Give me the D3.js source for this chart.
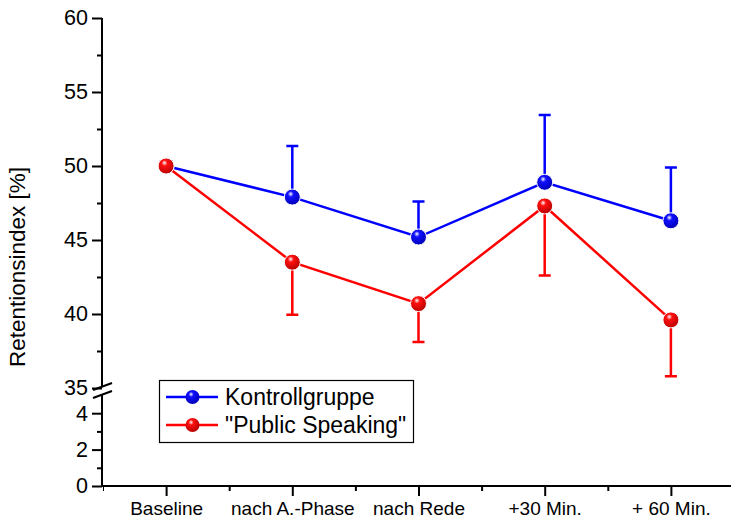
<!DOCTYPE html>
<meta charset="utf-8">
<style>
body { margin: 0; background: #fff; }
text { font-family: "Liberation Sans", Arial, sans-serif; fill: #000; }
</style>
<svg width="731" height="520"></svg>
<script src="https://d3js.org/d3.v7.min.js"></script>
<script>

var categories = ["Baseline", "nach A.-Phase", "nach Rede", "+30 Min.", "+ 60 Min."];
var kontroll = [50.0, 47.9, 45.2, 48.9, 46.3];
var kontrollErr = [0, 3.45, 2.4, 4.55, 3.6];
var publicSp = [50.0, 43.5, 40.7, 47.3, 39.6];
var publicErr = [0, 3.55, 2.6, 4.7, 3.8];
var upperTicks = [35, 40, 45, 50, 55, 60];
var lowerTicks = [0, 2, 4];

var svg = d3.select("svg");

// x position by category index
var x = d3.scaleLinear().domain([-0.5, 4.5]).range([103, 734]);
// two y segments with a break
var yTop = d3.scaleLinear().domain([35, 60]).range([388, 18]);
var yBot = d3.scaleLinear().domain([0, 5]).range([486, 395]);

var defs = svg.append("defs");
function ball(id, c, dark) {
  var g = defs.append("radialGradient").attr("id", id)
      .attr("cx", "40%").attr("cy", "35%").attr("r", "65%").attr("fx", "40%").attr("fy", "30%");
  g.append("stop").attr("offset", "0%").attr("stop-color", "#fff");
  g.append("stop").attr("offset", "28%").attr("stop-color", c);
  g.append("stop").attr("offset", "100%").attr("stop-color", dark);
}
ball("gBlue", "#1010ff", "#0000b8");
ball("gRed", "#ff1010", "#b80000");

// upper y axis
var axTop = svg.append("g").attr("transform", "translate(102,0)")
    .call(d3.axisLeft(yTop).tickValues(upperTicks).tickSize(10).tickSizeOuter(0).tickPadding(4));
axTop.append("g").call(d3.axisLeft(yTop).tickValues(d3.range(37.5, 60, 5)).tickSize(5).tickFormat(""));
var axBot = svg.append("g").attr("transform", "translate(102,0)")
    .call(d3.axisLeft(yBot).tickValues(lowerTicks).tickSize(10).tickSizeOuter(0).tickPadding(4)
      .tickFormat(d3.format("d")));
axBot.append("g").call(d3.axisLeft(yBot).tickValues([1, 3]).tickSize(5).tickFormat(""));
svg.selectAll(".domain").remove();
svg.append("line").attr("x1", 102).attr("x2", 102).attr("y1", yTop(60)).attr("y2", 386)
    .attr("stroke", "#000").attr("stroke-width", 2);
svg.append("line").attr("x1", 102).attr("x2", 102).attr("y1", 395).attr("y2", yBot(0))
    .attr("stroke", "#000").attr("stroke-width", 2);
// break marks
svg.append("line").attr("x1", 93).attr("y1", 390).attr("x2", 112).attr("y2", 383)
    .attr("stroke", "#000").attr("stroke-width", 2);
svg.append("line").attr("x1", 93).attr("y1", 398).attr("x2", 112).attr("y2", 391)
    .attr("stroke", "#000").attr("stroke-width", 2);

// x axis
var axX = svg.append("g").attr("transform", "translate(0," + yBot(0) + ")")
    .call(d3.axisBottom(x).tickValues(d3.range(0, 5)).tickFormat(function(i) { return categories[i]; })
      .tickSize(10).tickSizeOuter(0).tickPadding(6));
axX.append("g").call(d3.axisBottom(x).tickValues(d3.range(0.5, 4.5, 1)).tickSize(5).tickFormat(""));
axX.select(".domain").remove();
svg.append("line").attr("x1", 101).attr("x2", 731).attr("y1", yBot(0)).attr("y2", yBot(0))
    .attr("stroke", "#000").attr("stroke-width", 2);

svg.selectAll(".tick line").attr("stroke", "#000").attr("stroke-width", 2);
axTop.selectAll(".tick text").style("font-size", "21.5px");
axBot.selectAll(".tick text").style("font-size", "21.5px");
axX.selectAll(".tick text").style("font-size", "19px");

svg.append("text").attr("transform", "translate(25,267) rotate(-90)")
    .attr("text-anchor", "middle").style("font-size", "22.5px").text("Retentionsindex [%]");

// series
var line = d3.line().x(function(d, i) { return x(i); }).y(function(d) { return yTop(d); });

function series(vals, errs, color, grad, dir) {
  var g = svg.append("g");
  var pts = vals.map(function(v, i) { return { i: i, v: v, e: errs[i] }; });
  g.selectAll(".err").data(pts.filter(function(p) { return p.e > 0; })).enter()
    .append("path")
      .attr("d", function(p) {
        var y0 = yTop(p.v), y1 = yTop(p.v + dir * p.e), cx = x(p.i);
        return "M" + cx + "," + y0 + "V" + y1 + "M" + (cx - 6) + "," + y1 + "H" + (cx + 6);
      })
      .attr("stroke", color).attr("stroke-width", 2.5).attr("fill", "none");
  g.append("path").datum(vals).attr("d", line)
      .attr("stroke", color).attr("stroke-width", 2.5).attr("fill", "none");
  g.selectAll("circle").data(pts).enter().append("circle")
      .attr("cx", function(p) { return x(p.i); })
      .attr("cy", function(p) { return yTop(p.v); })
      .attr("r", 8).attr("fill", "url(#" + grad + ")")
      .attr("stroke", "#fff").attr("stroke-width", 1);
}
series(kontroll, kontrollErr, "#0000ff", "gBlue", 1);
series(publicSp, publicErr, "#ff0000", "gRed", -1);

// legend
var leg = svg.append("g");
leg.append("rect").attr("x", 159.5).attr("y", 380.5).attr("width", 254).attr("height", 62)
    .attr("fill", "#fff").attr("stroke", "#000").attr("stroke-width", 1.2);
var legItems = [["Kontrollgruppe", "#0000ff", "gBlue"], ["\"Public Speaking\"", "#ff0000", "gRed"]];
legItems.forEach(function(d, i) {
  var ly = 397 + i * 28;
  leg.append("line").attr("x1", 166).attr("x2", 218).attr("y1", ly).attr("y2", ly)
      .attr("stroke", d[1]).attr("stroke-width", 2.5);
  leg.append("circle").attr("cx", 192.5).attr("cy", ly).attr("r", 7)
      .attr("fill", "url(#" + d[2] + ")");
  leg.append("text").attr("x", 225).attr("y", ly + 8).style("font-size", "23px").text(d[0]);
});

</script>
